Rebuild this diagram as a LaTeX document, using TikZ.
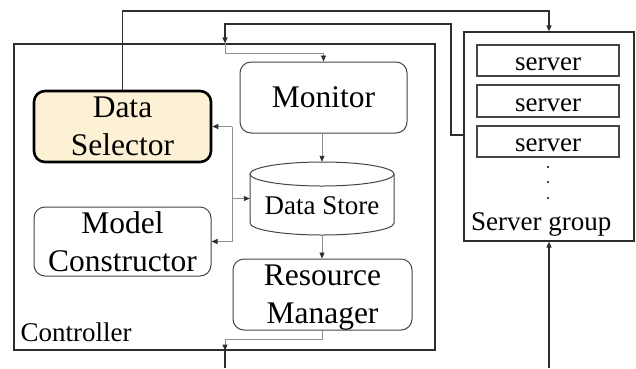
\documentclass[tikz,border=0pt]{standalone}
\usepackage{fontspec}
\setmainfont{Liberation Serif}
\newfontfamily\diagramserif{Liberation Serif}
\usetikzlibrary{arrows.meta}

\definecolor{wireDark}{HTML}{2E2E2E}
\definecolor{wireGray}{HTML}{8E8E8E}
\definecolor{boxLine}{HTML}{444444}
\definecolor{selFill}{HTML}{FDF1D5}

\tikzset{
  bigtext/.style={font=\diagramserif\fontsize{31.5}{38}\selectfont},
  smalltext/.style={font=\diagramserif\fontsize{27}{32}\selectfont},
  module/.style={draw=boxLine, line width=1pt, rounded corners=11pt,
    align=center, inner sep=0pt, bigtext},
  selector/.style={module, draw=black, line width=2.6pt, fill=selFill},
  frame/.style={draw=wireDark, line width=1.1pt, inner sep=0pt},
  serverbox/.style={draw=boxLine, line width=1.2pt, inner sep=0pt,
    minimum width=142pt, smalltext, text height=20pt, text depth=0pt},
  outerwire/.style={draw=wireDark, line width=1.4pt},
  innerwire/.style={draw=wireGray, line width=0.9pt},
  tip/.style={-{Triangle[length=6pt,width=5pt,color=wireDark]}},
}

\begin{document}
\begin{tikzpicture}[x=1pt,y=-1pt]
\useasboundingbox (0,0) rectangle (636,368);

% enclosing boxes
\node[frame, minimum width=421pt, minimum height=306pt] (ctrl) at (224.5,197) {};
\node[frame, minimum width=170pt, minimum height=209pt] (grp) at (549,136.5) {};

% controller modules
\node[selector, minimum width=177pt, minimum height=71pt] (sel) at (122.5,126.5) {Data\\Selector};
\node[module, minimum width=167pt, minimum height=71pt] (mon) at (323.5,97.5) {Monitor};
\node[module, minimum width=177pt, minimum height=69pt] (mc) at (122.5,241.5) {Model\\Constructor};
\node[module, minimum width=179pt, minimum height=71pt, text depth=0pt] (rm) at (322.5,294.5) {Resource\\Manager};

% data store cylinder
\node[inner sep=0pt, minimum width=144pt, minimum height=73pt, smalltext,
      text height=31pt, text depth=0pt] (store) at (322,198.5) {Data Store};
\draw[boxLine, line width=1pt] (322,174) ellipse [x radius=72pt, y radius=12pt];
\draw[boxLine, line width=1pt] (250,174) -- (250,223)
  arc[start angle=180, end angle=360, x radius=72pt, y radius=12pt] -- (394,174);

% servers
\node[serverbox, minimum height=31pt] (s1) at (548,60.5) {server};
\node[serverbox, minimum height=32pt] (s2) at (548,101) {server};
\node[serverbox, minimum height=31pt] (s3) at (548,141.5) {server};
\foreach \yy in {167,182,198} \fill[black] (548,\yy) circle[radius=1.2pt];

% labels
\node[smalltext, anchor=base west, inner sep=0pt] (ctrllabel) at (20.5,341.5) {Controller};
\node[smalltext, anchor=base west, inner sep=0pt] (grplabel) at (471,230.5) {Server group};

% routing rails
\coordinate (railA) at (0,11);
\coordinate (railB) at (0,24);
\coordinate (railBx) at (451,0);
\coordinate (feedX) at (225,0);
\coordinate (tap) at (0,135);
\coordinate (inA) at (0,53);
\coordinate (inB) at (0,339);
\coordinate (busX) at (232,0);
\coordinate (outA) at (225,368);
\coordinate (outB) at (549,368);

% selector to server group
\draw[outerwire, tip] (sel.north) -- (sel.north |- railA) -| (grp.north);
% server group back into controller
\draw[outerwire, tip] (grp.west |- tap) -| (railBx |- railB) -| (feedX |- ctrl.north);
\draw[innerwire, tip] (feedX |- ctrl.north) -- (feedX |- inA) -| (mon.north);
% monitor -> store -> resource manager
\draw[innerwire, tip] (mon.south -| store.north) -- (store.north);
\draw[innerwire, tip] (store.south) -- (store.south |- rm.north);
% store fan-out
\draw[innerwire] (busX |- sel.east) -- (busX |- mc.east);
\draw[innerwire, tip] (busX |- sel.east) -- (sel.east);
\draw[innerwire, tip] (busX |- mc.east) -- (mc.east);
\draw[innerwire, tip] (busX |- store.west) -- (store.west);
% resource manager out of controller
\draw[innerwire, tip] (rm.south) -- (rm.south |- inB) -| (feedX |- ctrl.south);
\draw[outerwire] (feedX |- ctrl.south) -- (outA);
\draw[outerwire, tip] (outB) -- (grp.south);
\end{tikzpicture}
\end{document}
